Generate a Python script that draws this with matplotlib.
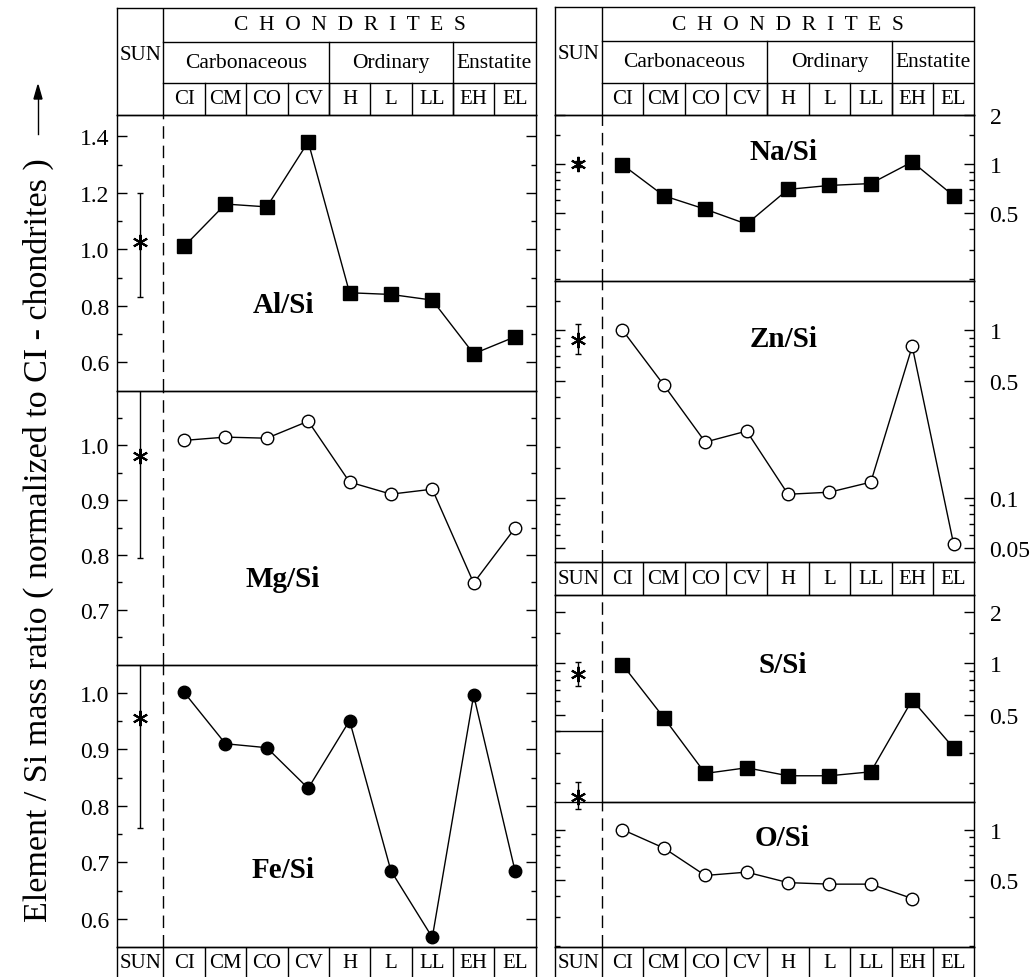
import numpy as np
import matplotlib.pyplot as plt
from matplotlib.lines import Line2D
from matplotlib.ticker import NullFormatter

plt.rcParams['font.family'] = ['Liberation Serif', 'DejaVu Serif']

W, H = 1034, 978

# --- data ---
classes = ['CI', 'CM', 'CO', 'CV', 'H', 'L', 'LL', 'EH', 'EL']
families = ['Carbonaceous', 'Ordinary', 'Enstatite']
family_sizes = [4, 3, 2]

al_si = [1.01, 1.16, 1.15, 1.38, 0.846, 0.84, 0.82, 0.63, 0.69]
al_sun = [1.024, 0.83, 1.20]          # value, low, high
mg_si = [1.009, 1.015, 1.013, 1.044, 0.933, 0.911, 0.92, 0.749, 0.849]
mg_sun = [0.981, 0.795, 1.167]
fe_si = [1.001, 0.91, 0.903, 0.831, 0.951, 0.685, 0.567, 0.996, 0.685]
fe_sun = [0.956, 0.76, 1.152]

na_si = [0.99, 0.64, 0.53, 0.43, 0.70, 0.74, 0.76, 1.03, 0.64]
na_sun = [1.0, 0.96, 1.04]
zn_si = [1.0, 0.47, 0.215, 0.25, 0.105, 0.108, 0.124, 0.80, 0.053]
zn_sun = [0.87, 0.72, 1.09]
s_si = [0.98, 0.48, 0.227, 0.245, 0.22, 0.22, 0.232, 0.61, 0.32]
s_sun = [0.866, 0.74, 1.02]
o_si = [1.0, 0.775, 0.53, 0.555, 0.48, 0.47, 0.47, 0.385, np.nan]
o_sun = [1.58, 1.33, 1.93]

# --- layout ---
fig = plt.figure(figsize=(W / 100, H / 100), dpi=100)

LX0, LX1 = 116.7, 535.7
RX0, RX1 = 555.0, 974.3
XMIN, XMAX = -0.63, 9.5
SUNX = (XMIN + 0.5) / 2
xpos = np.arange(1, 10)
LW = 1.0
DASH = (0, (9, 5))
TICK_FS = 17
CLS_FS = 15


def px_axes(x0, y0, x1, y1):
    ax = fig.add_axes([x0 / W, 1 - y1 / H, (x1 - x0) / W, (y1 - y0) / H])
    ax.set_xlim(XMIN, XMAX)
    ax.set_facecolor('none')
    for s in ax.spines.values():
        s.set_linewidth(LW)
    ax.set_xticks([])
    return ax


def style_y(ax, side):
    ax.tick_params(axis='y', which='both', direction='in', left=True, right=True,
                   width=LW, labelsize=TICK_FS)
    ax.tick_params(axis='y', which='major', length=7)
    ax.tick_params(axis='y', which='minor', length=3.5)
    if side == 'left':
        ax.tick_params(axis='y', labelleft=True, labelright=False, pad=5)
    else:
        ax.tick_params(axis='y', labelleft=False, labelright=True, pad=11)


def lin_axes(ax, lim, major, minor):
    ax.set_ylim(*lim)
    ax.set_yticks(major, labels=[f'{v:.1f}' for v in major])
    ax.set_yticks(minor, minor=True)
    style_y(ax, 'left')


def log_axes(ax, lim, major, labels, minor):
    ax.set_yscale('log')
    ax.set_ylim(*lim)
    ax.set_yticks(major, labels=labels)
    ax.set_yticks(minor, minor=True)
    ax.yaxis.set_minor_formatter(NullFormatter())
    style_y(ax, 'right')


def series(ax, vals, marker, filled, sun, clip=True):
    ax.plot(xpos, vals, '-', color='k', lw=LW, marker=marker, ms=9.5 if marker == 's' else 9,
            mfc='k' if filled else 'white', mec='k', mew=1.0, zorder=3)
    v, lo, hi = sun
    eb = ax.errorbar([SUNX], [v], yerr=[[v - lo], [hi - v]], fmt='none', ecolor='k',
                     elinewidth=LW, capsize=2.5, capthick=LW, zorder=3)
    m, = ax.plot([SUNX], [v], linestyle='none', marker=(6, 2, 0), ms=11, mec='k', mew=1.5,
                 zorder=4)
    if not clip:
        m.set_clip_on(False)
        for art in eb.get_children():
            art.set_clip_on(False)


def panel_title(ax, text, fx, fy):
    ax.text(fx, fy, text, transform=ax.transAxes, ha='center', va='center',
            fontsize=21, fontweight='bold')


def header(ax):
    ax.set_ylim(0, 106)
    ax.set_yticks([])
    r1, r2 = 31.5, 72.8
    ax.plot([0.5, 0.5], [0, 106], color='k', lw=LW)
    ax.plot([0.5, XMAX], [r2, r2], color='k', lw=LW)
    ax.plot([0.5, XMAX], [r1, r1], color='k', lw=LW)
    edge = 0.5
    for name, n in zip(families, family_sizes):
        ax.text(edge + n / 2, (r1 + r2) / 2, name, ha='center', va='center', fontsize=15.5)
        edge += n
        if edge < 9.5:
            ax.plot([edge, edge], [0, r2], color='k', lw=LW)
    for i, c in enumerate(classes):
        ax.text(xpos[i], r1 / 2, c, ha='center', va='center', fontsize=CLS_FS)
        if i < 8:
            ax.plot([xpos[i] + 0.5] * 2, [0, r1], color='k', lw=LW)
    ax.text(5.0, (r2 + 106) / 2, '  '.join('CHONDRITES'), ha='center', va='center',
            fontsize=15.5)
    ax.text(SUNX, 60, 'SUN', ha='center', va='center', fontsize=CLS_FS)


def label_row(ax, bottom=True):
    ax.set_ylim(0, 1)
    ax.set_yticks([])
    if not bottom:
        ax.spines['bottom'].set_visible(False)
    for b in np.arange(0.5, 9.5, 1.0):
        ax.plot([b, b], [0, 1], color='k', lw=LW)
    yt = 0.5 if bottom else 0.52
    ax.text(SUNX, yt, 'SUN', ha='center', va='center', fontsize=CLS_FS)
    for i, c in enumerate(classes):
        ax.text(xpos[i], yt, c, ha='center', va='center', fontsize=CLS_FS)


# ---------------- left panel ----------------
axh_l = px_axes(LX0, 9.3, LX1, 115.5)
header(axh_l)

ax_al = px_axes(LX0, 115.5, LX1, 391.5)
lin_axes(ax_al, (0.5, 1.477), [0.6, 0.8, 1.0, 1.2, 1.4], [0.7, 0.9, 1.1, 1.3])
series(ax_al, al_si, 's', True, al_sun)
panel_title(ax_al, 'Al/Si', 0.397, 0.31)

ax_mg = px_axes(LX0, 391.5, LX1, 665.7)
lin_axes(ax_mg, (0.6, 1.1), [0.7, 0.8, 0.9, 1.0], [0.65, 0.75, 0.85, 0.95, 1.05])
series(ax_mg, mg_si, 'o', False, mg_sun)
panel_title(ax_mg, 'Mg/Si', 0.397, 0.313)

ax_fe = px_axes(LX0, 665.7, LX1, 948)
lin_axes(ax_fe, (0.55, 1.05), [0.6, 0.7, 0.8, 0.9, 1.0], [0.65, 0.75, 0.85, 0.95])
series(ax_fe, fe_si, 'o', True, fe_sun)
panel_title(ax_fe, 'Fe/Si', 0.397, 0.276)

for ax in (ax_al, ax_mg, ax_fe):
    ax.axvline(0.5, color='k', lw=LW, ls=DASH)

axb_l = px_axes(LX0, 948, LX1, 980)
label_row(axb_l, bottom=False)

# ---------------- right panel ----------------
axh_r = px_axes(RX0, 8.3, RX1, 115.7)
header(axh_r)

ax_na = px_axes(RX0, 115.7, RX1, 281.7)
log_axes(ax_na, (0.194, 2.0), [0.5, 1, 2], ['0.5', '1', '2'],
         [0.2, 0.3, 0.4, 0.6, 0.7, 0.8, 0.9, 1.5])
series(ax_na, na_si, 's', True, na_sun)
panel_title(ax_na, 'Na/Si', 0.544, 0.781)

ax_zn = px_axes(RX0, 281.7, RX1, 562.7)
log_axes(ax_zn, (0.0416, 1.97), [0.05, 0.1, 0.5, 1], ['0.05', '0.1', '0.5', '1'],
         [0.06, 0.07, 0.08, 0.09, 0.15, 0.2, 0.3, 0.4, 0.6, 0.7, 0.8, 0.9, 1.5])
series(ax_zn, zn_si, 'o', False, zn_sun)
panel_title(ax_zn, 'Zn/Si', 0.544, 0.793)

axm_r = px_axes(RX0, 562.7, RX1, 596)
label_row(axm_r, bottom=True)

ax_s = px_axes(RX0, 596, RX1, 803.3)
log_axes(ax_s, (0.154, 2.5), [0.5, 1, 2], ['0.5', '1', '2'],
         [0.2, 0.3, 0.4, 0.6, 0.7, 0.8, 0.9, 1.5])
series(ax_s, s_si, 's', True, s_sun)
panel_title(ax_s, 'S/Si', 0.542, 0.667)

ax_o = px_axes(RX0, 803.3, RX1, 948.3)
ax_o.spines['top'].set_visible(False)
log_axes(ax_o, (0.196, 1.46), [0.5, 1], ['0.5', '1'],
         [0.2, 0.3, 0.4, 0.6, 0.7, 0.8, 0.9])
series(ax_o, o_si, 'o', False, o_sun, clip=False)
panel_title(ax_o, 'O/Si', 0.542, 0.754)

# S/Si bottom border stops at the sun column; the sun column steps up
step = (803.3 - 731.7) / (803.3 - 596)
sun_frac = (0.5 - XMIN) / (XMAX - XMIN)
ax_s.spines['bottom'].set_bounds(0.5, XMAX)
ax_s.plot([0, sun_frac], [step, step], transform=ax_s.transAxes, color='k', lw=LW)
ax_s.plot([sun_frac, sun_frac], [0, step], transform=ax_s.transAxes, color='k', lw=LW)
ax_s.axvline(0.5, ymin=step, ymax=1, color='k', lw=LW, ls=DASH)
ax_o.plot([XMIN, XMAX], [1.46, 1.46], color='k', lw=LW, clip_on=False)
ax_o.axvline(0.5, color='k', lw=LW, ls=DASH)
for ax in (ax_na, ax_zn):
    ax.axvline(0.5, color='k', lw=LW, ls=DASH)

axb_r = px_axes(RX0, 948.3, RX1, 980)
label_row(axb_r, bottom=False)

# y label with arrow
fig.text(38 / W, 1 - 540 / H, 'Element / Si mass ratio ( normalized to CI - chondrites )',
         rotation=90, ha='center', va='center', fontsize=24.5)
fig.add_artist(Line2D([38 / W, 38 / W], [1 - 135 / H, 1 - 100 / H], color='k', lw=1.0))
fig.patches.append(plt.Polygon([[34 / W, 1 - 100 / H], [42 / W, 1 - 100 / H], [38 / W, 1 - 86 / H]],
                               closed=True, color='k', transform=fig.transFigure, figure=fig))

fig.savefig('out.png', dpi=100)
